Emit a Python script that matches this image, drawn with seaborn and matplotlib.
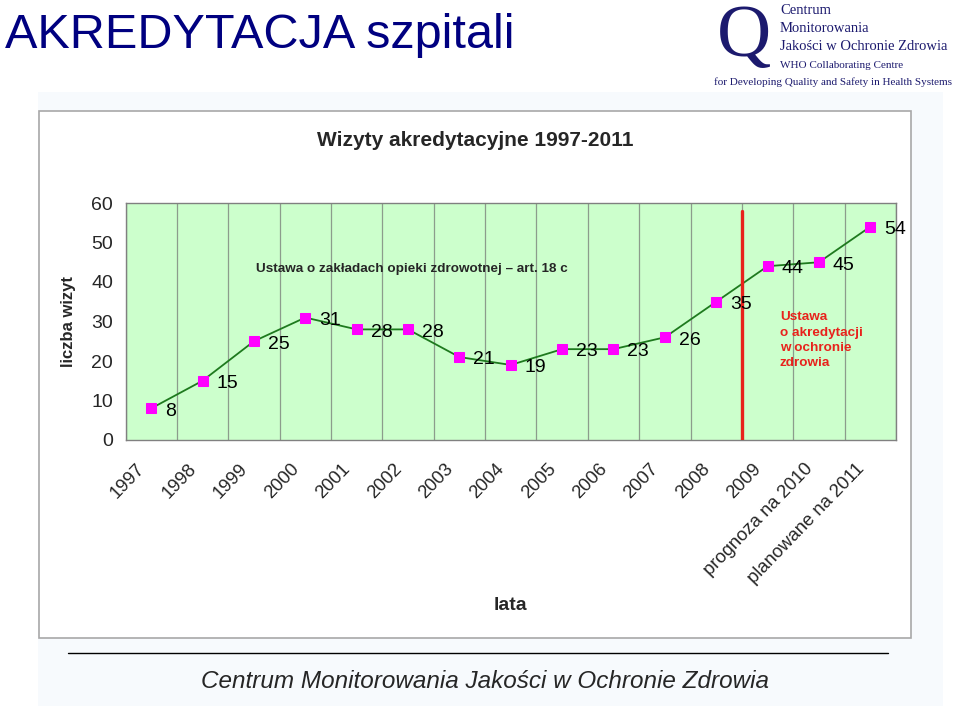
import matplotlib
matplotlib.use("Agg")
import matplotlib.pyplot as plt
import numpy as np
import pandas as pd
import seaborn as sns
from matplotlib.patches import Rectangle
from matplotlib.lines import Line2D

# dane
lata = ["1997", "1998", "1999", "2000", "2001", "2002", "2003", "2004",
        "2005", "2006", "2007", "2008", "2009", "prognoza na 2010", "planowane na 2011"]
wizyty = [8, 15, 25, 31, 28, 28, 21, 19, 23, 23, 26, 35, 44, 45, 54]
y_ticks = [0, 10, 20, 30, 40, 50, 60]

df = pd.DataFrame({"rok": lata, "wizyty": wizyty})

sns.set_style("white")
plt.rcParams["font.family"] = ["Liberation Sans", "DejaVu Sans"]
SERIF = ["Liberation Serif", "DejaVu Serif"]

W, H = 960, 706
fig = plt.figure(figsize=(W / 100, H / 100), dpi=100)
fig.patch.set_facecolor("white")


def fx(x):
    return x / W


def fy(y):
    return 1 - y / H


# tlo slajdu
fig.patches.append(Rectangle((fx(38), 0), fx(905), fy(92), transform=fig.transFigure,
                             facecolor="#F7FAFD", edgecolor="none", zorder=0))
# ramka wykresu
fig.patches.append(Rectangle((fx(39), fy(638)), fx(872), fy(111) - fy(638),
                             transform=fig.transFigure, facecolor="white",
                             edgecolor="#A8A8A8", linewidth=1.2, zorder=1))

# naglowek
fig.text(fx(5), fy(35), "AKREDYTACJA szpitali", fontsize=35, color="#000080",
         ha="left", va="center")

# logo
fig.text(fx(744), fy(38), "Q", fontsize=54, color="#1C1A6E", family=SERIF,
         ha="center", va="center")
fig.text(fx(780), fy(11), "Centrum", fontsize=10.5, color="#1C1A6E", family=SERIF, va="center")
fig.text(fx(780), fy(29), "Monitorowania", fontsize=10.5, color="#1C1A6E", family=SERIF, va="center")
fig.text(fx(780), fy(46), "Jakości w Ochronie Zdrowia", fontsize=10.5, color="#1C1A6E",
         family=SERIF, va="center")
fig.text(fx(780), fy(65), "WHO Collaborating Centre", fontsize=8, color="#1C1A6E",
         family=SERIF, va="center")
fig.text(fx(714), fy(82), "for Developing Quality and Safety in Health Systems", fontsize=8,
         color="#1C1A6E", family=SERIF, va="center")

# wykres
ax = fig.add_axes([fx(125.5), fy(440), fx(770.5), fy(203) - fy(440)])
ax.set_facecolor("#CCFFCC")
ax.set_zorder(2)

sns.lineplot(data=df, x="rok", y="wizyty", sort=False, color="#1E7A1E", linewidth=1.3,
             marker="s", markersize=7.5, markerfacecolor="#FF00FF",
             markeredgecolor="#FF00FF", ax=ax, zorder=3)

for i, v in enumerate(wizyty):
    ax.annotate(str(v), xy=(i, v), xytext=(10, -2), textcoords="offset points",
                ha="left", va="center", fontsize=14, color="black", zorder=4)

ax.set_xlim(-0.5, len(lata) - 0.5)
ax.set_ylim(0, 60)
ax.set_yticks(y_ticks)
ax.set_xticks(np.arange(len(lata)))
ax.set_xticklabels([])
# etykiety osi X pod katem, przesuniete w lewo jak w Excelu
for i, rok in enumerate(lata):
    ax.annotate(rok, xy=(i, 0), xycoords=("data", "axes fraction"), xytext=(-6.5, -19),
                textcoords="offset points", rotation=46, ha="right", va="center",
                rotation_mode="anchor", fontsize=13.3, annotation_clip=False)
ax.set_xticks(np.arange(len(lata) + 1) - 0.5, minor=True)
ax.tick_params(axis="x", which="major", length=0)
ax.tick_params(axis="x", which="minor", length=5, color="#808080", direction="out")
ax.tick_params(axis="y", length=5, color="#808080", direction="out", labelsize=14, pad=4)
ax.grid(False)
ax.grid(True, axis="x", which="minor", color="#8C9C8C", linewidth=0.9)
for s in ax.spines.values():
    s.set_color("#808080")
    s.set_linewidth(1.0)
    s.set_visible(True)

ax.set_xlabel("")
ax.set_ylabel("")

# linia ustawy o akredytacji
ax.axvline(11.5, ymin=0, ymax=58 / 60, color="#E8221C", linewidth=2.4, zorder=3)

ax.text(2.04, 43.3, "Ustawa o zakładach opieki zdrowotnej – art. 18 c", fontsize=9.7,
        fontweight="bold", ha="left", va="center", zorder=4)
ax.text(12.24, 32.6, "Ustawa\no akredytacji\nw ochronie\nzdrowia", fontsize=9.7,
        fontweight="bold", color="#E8221C", ha="left", va="top", linespacing=1.38, zorder=4)

# opisy
fig.text(fx(475), fy(141), "Wizyty akredytacyjne 1997-2011", fontsize=15, fontweight="bold",
         ha="center", va="center", zorder=3)
fig.text(fx(68), fy(322), "liczba wizyt", fontsize=12, fontweight="bold",
         rotation=90, ha="center", va="center", zorder=3)
fig.text(fx(510), fy(605), "lata", fontsize=14, fontweight="bold",
         ha="center", va="center", zorder=3)

# stopka
fig.lines.append(Line2D([fx(68), fx(888)], [fy(653), fy(653)], transform=fig.transFigure,
                        color="black", linewidth=1.0))
fig.text(fx(485), fy(682), "Centrum Monitorowania Jakości w Ochronie Zdrowia", fontsize=17.5,
         style="italic", ha="center", va="center")

fig.savefig("out.png", dpi=100, facecolor=fig.get_facecolor())
